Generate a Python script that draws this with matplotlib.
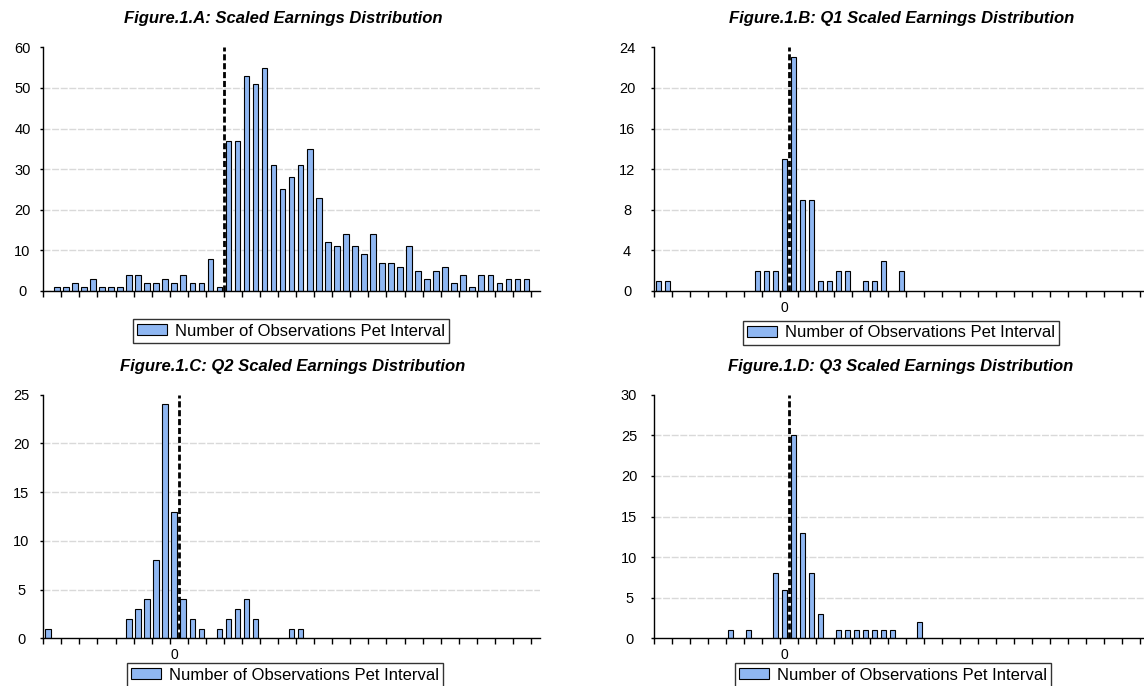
import numpy as np
import matplotlib
matplotlib.use("Agg")
import matplotlib.pyplot as plt
from matplotlib.patches import Patch

plt.rcParams['font.family'] = ['Liberation Sans', 'DejaVu Sans']

# 54 equal-width intervals of scaled earnings, counts per interval
n_bins = 54

all_counts = [0, 1, 1, 2, 1, 3, 1, 1, 1, 4, 4, 2, 2, 3, 2, 4, 2, 2, 8, 1, 37,
              37, 53, 51, 55, 31, 25, 28, 31, 35, 23, 12, 11, 14, 11, 9, 14,
              7, 7, 6, 11, 5, 3, 5, 6, 2, 4, 1, 4, 4, 2, 3, 3, 3]

q1_bins = [0, 1, 11, 12, 13, 14, 15, 16, 17, 18, 19, 20, 21, 23, 24, 25, 27]
q1_counts = [1, 1, 2, 2, 2, 13, 23, 9, 9, 1, 1, 2, 2, 1, 1, 3, 2]

q2_bins = [0, 9, 10, 11, 12, 13, 14, 15, 16, 17, 19, 20, 21, 22, 23, 27, 28]
q2_counts = [1, 2, 3, 4, 8, 24, 13, 4, 2, 1, 1, 2, 3, 4, 2, 1, 1]

q3_bins = [8, 10, 13, 14, 15, 16, 17, 18, 20, 21, 22, 23, 24, 25, 26, 29]
q3_counts = [1, 1, 8, 6, 25, 13, 8, 3, 1, 1, 1, 1, 1, 1, 1, 2]

titles = ['Figure.1.A: Scaled Earnings Distribution',
          'Figure.1.B: Q1 Scaled Earnings Distribution',
          'Figure.1.C: Q2 Scaled Earnings Distribution',
          'Figure.1.D: Q3 Scaled Earnings Distribution']
legend_label = 'Number of Observations Pet Interval'

bar_color = '#8FB7F2'
W, H = 1144, 686
fig = plt.figure(figsize=(W / 100, H / 100), dpi=100)


def px_axes(x0, x1, ytop, ybot):
    return fig.add_axes([x0 / W, 1 - ybot / H, (x1 - x0) / W, (ybot - ytop) / H])


panels = [
    dict(x0=43.3, x1=540.0, ytop=47.3, ybot=291.0, bins=list(range(n_bins)),
         counts=all_counts, yticks=range(0, 61, 10), cut=19.5, zero=False,
         title_xy=(283, 19), leg_xy=(291, 331), ylab_off=21),
    dict(x0=654.0, x1=1149.0, ytop=47.3, ybot=291.0, bins=q1_bins,
         counts=q1_counts, yticks=range(0, 25, 4), cut=14.5, zero=True,
         title_xy=(902, 19), leg_xy=(901, 333), ylab_off=27),
    dict(x0=43.3, x1=540.0, ytop=394.7, ybot=638.3, bins=q2_bins,
         counts=q2_counts, yticks=range(0, 26, 5), cut=14.5, zero=True,
         title_xy=(293, 367), leg_xy=(285, 675), ylab_off=22),
    dict(x0=654.0, x1=1149.0, ytop=394.7, ybot=638.3, bins=q3_bins,
         counts=q3_counts, yticks=range(0, 31, 5), cut=14.5, zero=True,
         title_xy=(901, 367), leg_xy=(893, 675), ylab_off=25),
]

for p, title in zip(panels, titles):
    ax = px_axes(p['x0'], p['x1'], p['ytop'], p['ybot'])
    yt = list(p['yticks'])

    # light dashed gridlines between the bottom and top ticks
    for v in yt[1:-1]:
        ax.axhline(v, color='#d9d9d9', lw=1.0, linestyle=(0, (5, 1.2)), zorder=0)

    ax.bar(p['bins'], p['counts'], width=0.62, color=bar_color,
           edgecolor='black', linewidth=0.8, zorder=2)
    ax.axvline(p['cut'], color='black', lw=2.0, linestyle=(0, (2.2, 1.0)), zorder=3)

    ax.set_xlim(-0.5, n_bins + 0.5)
    ax.set_ylim(0, yt[-1])
    ax.set_yticks(yt)
    ax.set_xticks(np.arange(-0.5, n_bins, 2))
    ax.set_xticklabels([])

    for s in ['top', 'right']:
        ax.spines[s].set_visible(False)
    for s in ['left', 'bottom']:
        ax.spines[s].set_linewidth(1.0)

    ax.tick_params(axis='x', direction='out', length=4, width=1.0)
    ax.tick_params(axis='y', direction='out', length=2.5, width=1.0,
                   labelsize=10.5, pad=(p['ylab_off'] - 3.5) * 0.72)
    for lab in ax.get_yticklabels():
        lab.set_horizontalalignment('center')

    if p['zero']:
        ax.text(14, -0.07, '0', transform=ax.get_xaxis_transform(),
                ha='center', va='center', fontsize=10)

    fig.text(p['title_xy'][0] / W, 1 - p['title_xy'][1] / H, title,
             ha='center', va='center', fontsize=12, fontweight='bold',
             fontstyle='italic')

    handle = Patch(facecolor=bar_color, edgecolor='black', linewidth=0.8)
    leg = ax.legend([handle], [legend_label], loc='center',
                    bbox_to_anchor=(p['leg_xy'][0] / W, 1 - p['leg_xy'][1] / H),
                    bbox_transform=fig.transFigure, fontsize=12,
                    fancybox=False, framealpha=1, edgecolor='#333333',
                    handlelength=1.8, handleheight=0.6, handletextpad=0.5,
                    borderpad=0.25, borderaxespad=0)
    leg.get_frame().set_linewidth(1.0)

fig.savefig('out.png', dpi=100)
